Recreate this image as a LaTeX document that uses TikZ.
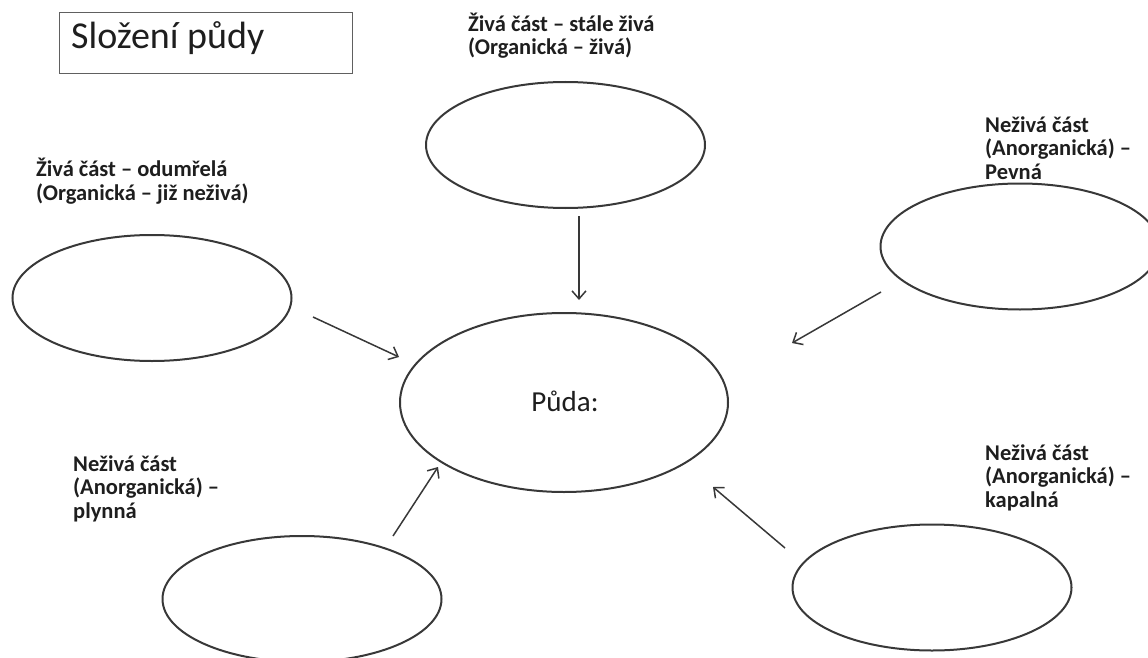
\documentclass[tikz,border=0pt]{standalone}
\usepackage{fontspec}
\setmainfont{Carlito}
\usetikzlibrary{arrows.meta,shapes.geometric}
\definecolor{ink}{HTML}{1E1E1E}
\definecolor{edge}{HTML}{383838}
\tikzset{
  part/.style={draw=edge, line width=2pt, ellipse, minimum width=279pt, minimum height=126pt, inner sep=0pt},
  lab/.style={anchor=base west, align=left, inner sep=0pt, text=ink, font=\bfseries\fontsize{22.5}{23.5}\selectfont},
  arr/.style={draw=edge, line width=1.5pt, -{Straight Barb[length=8pt,width=14pt,line width=1.5pt]}},
}
\begin{document}
\begin{tikzpicture}[x=1pt,y=-1pt]
\useasboundingbox (0,0) rectangle (1148,658);
% title
\node[draw=edge!80, line width=1.4pt, minimum width=293pt, minimum height=61pt, inner sep=0pt, anchor=north west] (title) at (59,12) {};
\node[anchor=base west, inner sep=0pt, text=ink, font=\fontsize{38}{42}\selectfont] (titletext) at (71,49) {Složení půdy};
% ellipses
\node[part] (top) at (565.5,145) {};
\node[part] (left) at (152,298) {};
\node[part] (right) at (1020,246.5) {};
\node[part] (bl) at (302,599) {};
\node[part] (br) at (932,587.5) {};
\node[draw=edge, line width=2pt, ellipse, minimum width=328pt, minimum height=179pt, inner sep=0pt] (puda) at (564,402.5) {};
\node[anchor=base, inner sep=0pt, text=ink, font=\fontsize{29}{32}\selectfont] (pudatext) at (565,411) {Půda:};
% labels (anchor = baseline of the last line)
\node[lab] (ltop) at (468,55) {Živá část – stále živá\\(Organická – živá)};
\node[lab] (lleft) at (36,200) {Živá část – odumřelá\\(Organická – již neživá)};
\node[lab] (lright) at (985,179) {Neživá část\\(Anorganická) –\\Pevná};
\node[lab] (lbl) at (73,518) {Neživá část\\(Anorganická) –\\plynná};
\node[lab] (lbr) at (985,507) {Neživá část\\(Anorganická) –\\kapalná};
% arrow ends
\coordinate (t1) at (579,216); \coordinate (t2) at (579,300);
\coordinate (l1) at (313,317); \coordinate (l2) at (399,357);
\coordinate (r1) at (881,292); \coordinate (r2) at (792,343);
\coordinate (b1) at (393,536); \coordinate (b2) at (438,467);
\coordinate (c1) at (785,548); \coordinate (c2) at (713,487);
\draw[arr] (t1) -- (t2);
\draw[arr] (l1) -- (l2);
\draw[arr] (r1) -- (r2);
\draw[arr] (b1) -- (b2);
\draw[arr] (c1) -- (c2);
\end{tikzpicture}
\end{document}
